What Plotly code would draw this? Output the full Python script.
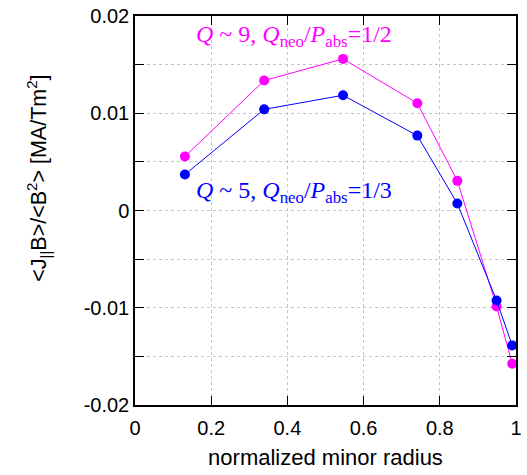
import plotly.graph_objects as go

x_vals = [0.131, 0.339, 0.546, 0.741, 0.846, 0.949, 0.99]
y_q9 = [0.00555, 0.01336, 0.01559, 0.01103, 0.00305, -0.00987, -0.01576]
y_q5 = [0.0037, 0.0104, 0.01185, 0.0077, 0.00072, -0.00925, -0.01387]

x_ticks = [0, 0.2, 0.4, 0.6, 0.8, 1]
x_ticklabels = ["0", "0.2", "0.4", "0.6", "0.8", "1"]
y_ticks = [-0.02, -0.01, 0, 0.01, 0.02]
y_ticklabels = ["-0.02", "-0.01", "0", "0.01", "0.02"]

MAG = "#ff00ff"
BLUE = "#0000ff"
GRID = "#c4c4c4"

fig = go.Figure()
fig.add_trace(go.Scatter(x=x_vals, y=y_q9, mode="lines+markers",
                         line=dict(color=MAG, width=1), marker=dict(color=MAG, size=10),
                         showlegend=False))
fig.add_trace(go.Scatter(x=x_vals, y=y_q5, mode="lines+markers",
                         line=dict(color=BLUE, width=1), marker=dict(color=BLUE, size=10),
                         showlegend=False))

sans = "Liberation Sans, Arial, sans-serif"
tickfont = dict(family=sans, size=20, color="black")

fig.update_xaxes(range=[0, 1], tickvals=x_ticks, ticktext=x_ticklabels,
                 showgrid=True, gridcolor=GRID, griddash="dot", gridwidth=1,
                 ticks="inside", ticklen=9, tickcolor="black",
                 showline=True, linecolor="black", linewidth=1.5, mirror="ticks",
                 zeroline=False, tickfont=tickfont, ticklabelstandoff=4,
                 title=dict(text="normalized minor radius", font=dict(family=sans, size=22, color="black"), standoff=12))
fig.update_yaxes(range=[-0.02, 0.02], tickvals=y_ticks, ticktext=y_ticklabels,
                 showgrid=True, gridcolor=GRID, griddash="dot", gridwidth=1,
                 ticks="inside", ticklen=9, tickcolor="black",
                 minor=dict(dtick=0.005, tick0=0, ticks="inside", ticklen=9, tickcolor="black",
                            showgrid=True, gridcolor=GRID, griddash="dot"),
                 showline=True, linecolor="black", linewidth=1.5, mirror="ticks",
                 zeroline=False, tickfont=tickfont)

fig.add_annotation(xref="paper", yref="paper", x=-0.253, y=0.583, xanchor="center", yanchor="middle",
                   textangle=-90, showarrow=False,
                   text="&lt;J<sub>||</sub>B&gt;/&lt;B<sup>2</sup>&gt; [MA/Tm<sup>2</sup>]",
                   font=dict(family=sans, size=21.5, color="black"))

serif = "Liberation Serif, Times New Roman, serif"
fig.add_annotation(x=0.155, y=0.0197, xref="x", yref="y", xanchor="left", yanchor="top",
                   text="<i>Q</i> ~ 9, <i>Q</i><sub>neo</sub>/<i>P</i><sub>abs</sub>=1/2",
                   showarrow=False, font=dict(family=serif, size=24, color=MAG))
fig.add_annotation(x=0.155, y=0.0036, xref="x", yref="y", xanchor="left", yanchor="top",
                   text="<i>Q</i> ~ 5, <i>Q</i><sub>neo</sub>/<i>P</i><sub>abs</sub>=1/3",
                   showarrow=False, font=dict(family=serif, size=24, color=BLUE))

fig.update_layout(width=527, height=475, margin=dict(l=135, r=5, t=16, b=70),
                  plot_bgcolor="white", paper_bgcolor="white")

fig.write_html("out.html")
